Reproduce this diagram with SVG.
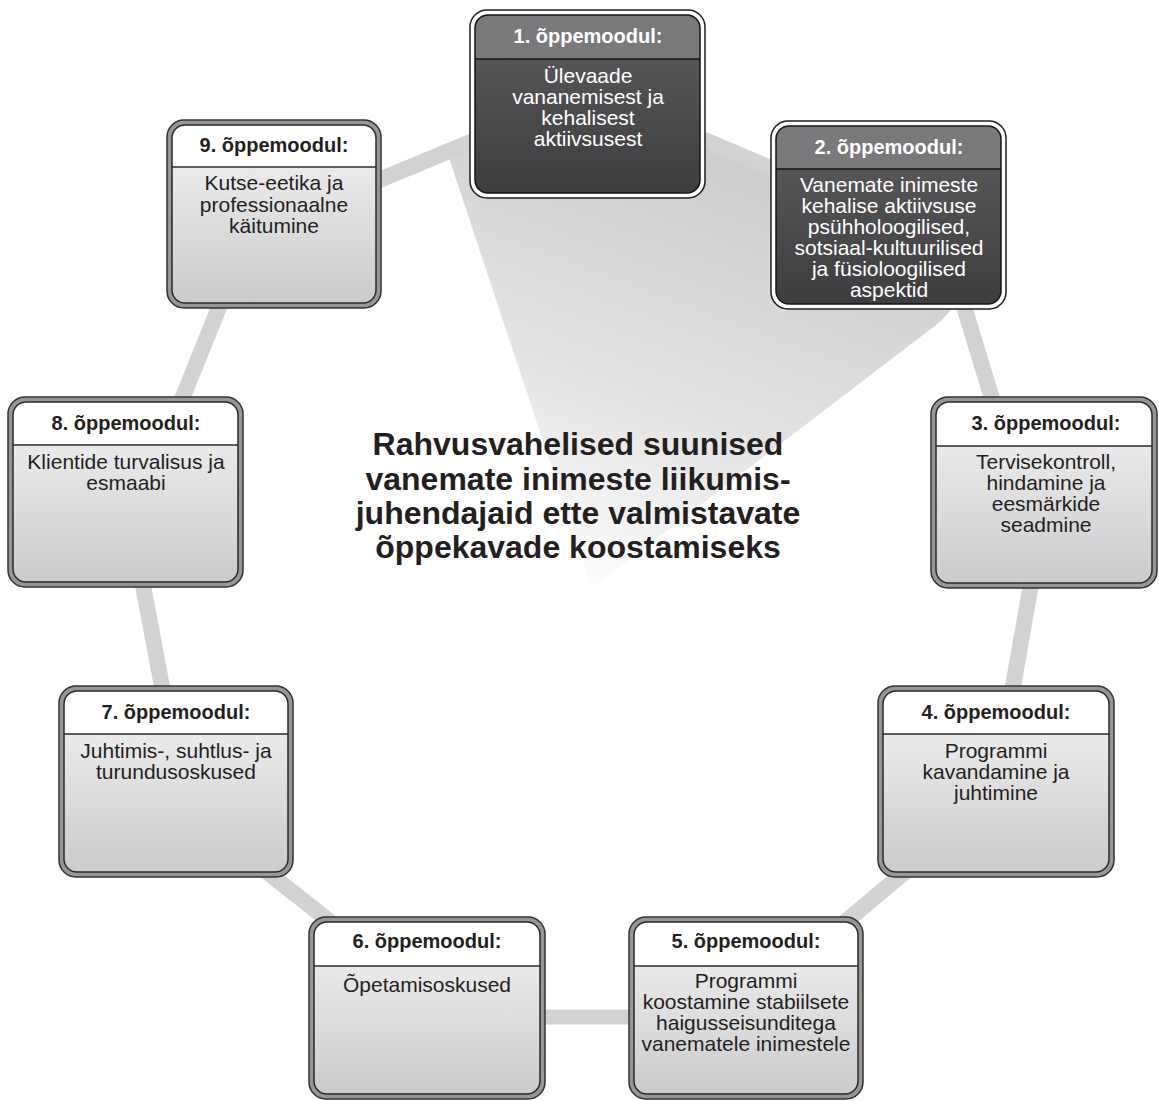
<svg xmlns="http://www.w3.org/2000/svg" width="1159" height="1101" viewBox="0 0 1159 1101">
<defs>
  <linearGradient id="gLight" x1="0" y1="0" x2="0" y2="1">
    <stop offset="0" stop-color="#f4f4f5"/>
    <stop offset="1" stop-color="#cbcbcd"/>
  </linearGradient>
  <linearGradient id="gDark" x1="0" y1="0" x2="0" y2="1">
    <stop offset="0" stop-color="#5d5d5f"/>
    <stop offset="1" stop-color="#3d3d3f"/>
  </linearGradient>
  <linearGradient id="gWedge" gradientUnits="userSpaceOnUse" x1="760" y1="170" x2="600" y2="600">
    <stop offset="0" stop-color="#cdcdcf"/>
    <stop offset="0.55" stop-color="#e3e3e4"/>
    <stop offset="1" stop-color="#fdfdfd"/>
  </linearGradient>
  <style>
    .outerL{fill:#969698;stroke:#333;stroke-width:1.5}
    .outerD{fill:#fff;stroke:#1e1e1e;stroke-width:1.5}
    .bodyL{fill:url(#gLight)}
    .bodyD{fill:url(#gDark)}
    .headL{fill:#ffffff}
    .headD{fill:#79797b}
    .frameL{fill:none;stroke:#2a2a2a;stroke-width:1.5}
    .frameD{fill:none;stroke:#151515;stroke-width:1.5}
    .sepL{stroke:#2a2a2a;stroke-width:1.3}
    .sepD{stroke:#151515;stroke-width:1.3}
    .hd{font-family:"Liberation Sans",Arial,sans-serif;font-weight:bold;font-size:20px;text-anchor:middle}
    .bd{font-family:"Liberation Sans",Arial,sans-serif;font-size:21px;text-anchor:middle}
    .tL{fill:#231f20}
    .tD{fill:#ffffff}
    .conn{stroke:#d2d2d4;stroke-width:16;fill:none}
    .title{font-family:"Liberation Sans",Arial,sans-serif;font-weight:bold;font-size:32px;text-anchor:middle;fill:#231f20}
  </style>
</defs>
<rect width="1159" height="1101" fill="#ffffff"/>
<g id="wedge">
  <polygon points="447,152 560,60 706,132 771,164 960,300 940,322 592,588" fill="url(#gWedge)"/>
</g>
<g id="connectors">
  <line class="conn" x1="372" y1="183" x2="478" y2="139"/>
  <line class="conn" x1="700" y1="138" x2="780" y2="172"/>
  <line class="conn" x1="962" y1="300" x2="994" y2="405"/>
  <line class="conn" x1="1031" y1="584" x2="1012" y2="692"/>
  <line class="conn" x1="912" y1="866" x2="838" y2="928"/>
  <line class="conn" x1="540" y1="1017" x2="635" y2="1017" style="stroke-width:15"/>
  <line class="conn" x1="262" y1="868" x2="338" y2="928"/>
  <line class="conn" x1="142" y1="580" x2="163" y2="692"/>
  <line class="conn" x1="180" y1="404" x2="222" y2="300"/>
</g>
<g id="node1">
  <rect class="outerD" x="470" y="10" width="235" height="188" rx="17"/>
  <rect class="bodyD" x="475" y="15" width="225" height="178" rx="13"/>
  <path class="headD" d="M475,59 V28 A13,13 0 0 1 488,15 H687 A13,13 0 0 1 700,28 V59 Z"/>
  <line class="sepD" x1="475" y1="59" x2="700" y2="59"/>
  <rect class="frameD" x="475" y="15" width="225" height="178" rx="13"/>
  <text class="hd tD" x="588" y="43">1. õppemoodul:</text>
  <text class="bd tD" x="588" y="83">Ülevaade</text>
  <text class="bd tD" x="588" y="104">vananemisest ja</text>
  <text class="bd tD" x="588" y="125">kehalisest</text>
  <text class="bd tD" x="588" y="146">aktiivsusest</text>
</g>
<g id="node2">
  <rect class="outerD" x="771" y="121" width="235" height="188" rx="17"/>
  <rect class="bodyD" x="776" y="126" width="225" height="178" rx="13"/>
  <path class="headD" d="M776,169 V139 A13,13 0 0 1 789,126 H988 A13,13 0 0 1 1001,139 V169 Z"/>
  <line class="sepD" x1="776" y1="169" x2="1001" y2="169"/>
  <rect class="frameD" x="776" y="126" width="225" height="178" rx="13"/>
  <text class="hd tD" x="889" y="154">2. õppemoodul:</text>
  <text class="bd tD" x="889" y="192">Vanemate inimeste</text>
  <text class="bd tD" x="889" y="213">kehalise aktiivsuse</text>
  <text class="bd tD" x="889" y="234">psühholoogilised,</text>
  <text class="bd tD" x="889" y="255">sotsiaal-kultuurilised</text>
  <text class="bd tD" x="889" y="276">ja füsioloogilised</text>
  <text class="bd tD" x="889" y="297">aspektid</text>
</g>
<g id="node3">
  <rect class="outerL" x="931" y="397" width="226" height="191" rx="17"/>
  <rect class="bodyL" x="936" y="402" width="216" height="181" rx="13"/>
  <path class="headL" d="M936,446 V415 A13,13 0 0 1 949,402 H1139 A13,13 0 0 1 1152,415 V446 Z"/>
  <line class="sepL" x1="936" y1="446" x2="1152" y2="446"/>
  <rect class="frameL" x="936" y="402" width="216" height="181" rx="13"/>
  <text class="hd tL" x="1046" y="430">3. õppemoodul:</text>
  <text class="bd tL" x="1046" y="469">Tervisekontroll,</text>
  <text class="bd tL" x="1046" y="490">hindamine ja</text>
  <text class="bd tL" x="1046" y="511">eesmärkide</text>
  <text class="bd tL" x="1046" y="532">seadmine</text>
</g>
<g id="node4">
  <rect class="outerL" x="878" y="686" width="236" height="191" rx="17"/>
  <rect class="bodyL" x="883" y="691" width="226" height="181" rx="13"/>
  <path class="headL" d="M883,734 V704 A13,13 0 0 1 896,691 H1096 A13,13 0 0 1 1109,704 V734 Z"/>
  <line class="sepL" x1="883" y1="734" x2="1109" y2="734"/>
  <rect class="frameL" x="883" y="691" width="226" height="181" rx="13"/>
  <text class="hd tL" x="996" y="719">4. õppemoodul:</text>
  <text class="bd tL" x="996" y="758">Programmi</text>
  <text class="bd tL" x="996" y="779">kavandamine ja</text>
  <text class="bd tL" x="996" y="800">juhtimine</text>
</g>
<g id="node5">
  <rect class="outerL" x="629" y="917" width="234" height="182" rx="17"/>
  <rect class="bodyL" x="634" y="922" width="224" height="172" rx="13"/>
  <path class="headL" d="M634,966 V935 A13,13 0 0 1 647,922 H845 A13,13 0 0 1 858,935 V966 Z"/>
  <line class="sepL" x1="634" y1="966" x2="858" y2="966"/>
  <rect class="frameL" x="634" y="922" width="224" height="172" rx="13"/>
  <text class="hd tL" x="746" y="948">5. õppemoodul:</text>
  <text class="bd tL" x="746" y="988">Programmi</text>
  <text class="bd tL" x="746" y="1009">koostamine stabiilsete</text>
  <text class="bd tL" x="746" y="1030">haigusseisunditega</text>
  <text class="bd tL" x="746" y="1051">vanematele inimestele</text>
</g>
<g id="node6">
  <rect class="outerL" x="309" y="917" width="236" height="182" rx="17"/>
  <rect class="bodyL" x="314" y="922" width="226" height="172" rx="13"/>
  <path class="headL" d="M314,966 V935 A13,13 0 0 1 327,922 H527 A13,13 0 0 1 540,935 V966 Z"/>
  <line class="sepL" x1="314" y1="966" x2="540" y2="966"/>
  <rect class="frameL" x="314" y="922" width="226" height="172" rx="13"/>
  <text class="hd tL" x="427" y="948">6. õppemoodul:</text>
  <text class="bd tL" x="427" y="992">Õpetamisoskused</text>
</g>
<g id="node7">
  <rect class="outerL" x="59" y="686" width="234" height="191" rx="17"/>
  <rect class="bodyL" x="64" y="691" width="224" height="181" rx="13"/>
  <path class="headL" d="M64,734 V704 A13,13 0 0 1 77,691 H275 A13,13 0 0 1 288,704 V734 Z"/>
  <line class="sepL" x1="64" y1="734" x2="288" y2="734"/>
  <rect class="frameL" x="64" y="691" width="224" height="181" rx="13"/>
  <text class="hd tL" x="176" y="719">7. õppemoodul:</text>
  <text class="bd tL" x="176" y="758">Juhtimis-, suhtlus- ja</text>
  <text class="bd tL" x="176" y="779">turundusoskused</text>
</g>
<g id="node8">
  <rect class="outerL" x="8" y="397" width="235" height="190" rx="17"/>
  <rect class="bodyL" x="13" y="402" width="225" height="180" rx="13"/>
  <path class="headL" d="M13,445 V415 A13,13 0 0 1 26,402 H225 A13,13 0 0 1 238,415 V445 Z"/>
  <line class="sepL" x1="13" y1="445" x2="238" y2="445"/>
  <rect class="frameL" x="13" y="402" width="225" height="180" rx="13"/>
  <text class="hd tL" x="126" y="430">8. õppemoodul:</text>
  <text class="bd tL" x="126" y="469">Klientide turvalisus ja</text>
  <text class="bd tL" x="126" y="490">esmaabi</text>
</g>
<g id="node9">
  <rect class="outerL" x="167" y="120" width="214" height="188" rx="17"/>
  <rect class="bodyL" x="172" y="125" width="204" height="178" rx="13"/>
  <path class="headL" d="M172,167 V138 A13,13 0 0 1 185,125 H363 A13,13 0 0 1 376,138 V167 Z"/>
  <line class="sepL" x1="172" y1="167" x2="376" y2="167"/>
  <rect class="frameL" x="172" y="125" width="204" height="178" rx="13"/>
  <text class="hd tL" x="274" y="152">9. õppemoodul:</text>
  <text class="bd tL" x="274" y="190">Kutse-eetika ja</text>
  <text class="bd tL" x="274" y="212">professionaalne</text>
  <text class="bd tL" x="274" y="233">käitumine</text>
</g>
<g id="title">
  <text class="title" x="578" y="455">Rahvusvahelised suunised</text>
  <text class="title" x="578" y="490">vanemate inimeste liikumis-</text>
  <text class="title" x="578" y="524">juhendajaid ette valmistavate</text>
  <text class="title" x="578" y="558">õppekavade koostamiseks</text>
</g>
</svg>
